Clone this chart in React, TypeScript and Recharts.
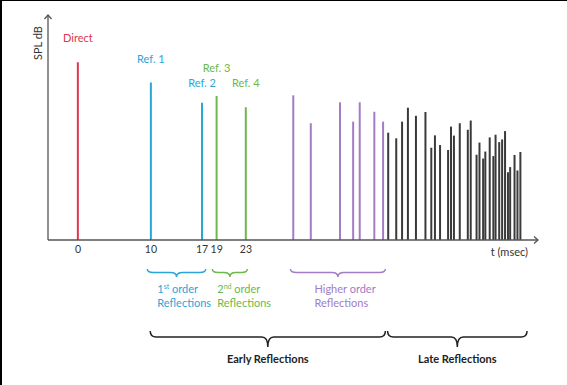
import React from 'react';
import { BarChart, Bar, XAxis, YAxis, Cell, LabelList, ReferenceArea, ReferenceDot } from 'recharts';

// time of arrival (msec) and level (relative SPL) of each reflection
const earlyTimes = [0, 10, 17, 19, 23];
const earlyLevels = [79, 70, 61, 64, 59];
const earlyNames = ['Direct', 'Ref. 1', 'Ref. 2', 'Ref. 3', 'Ref. 4'];
const earlyGroups = ['direct', 'first', 'first', 'second', 'second'];

const higherTimes = [29.5, 31.9, 35.9, 37.7, 38.6, 40.6, 41.8];
const higherLevels = [64.3, 51.9, 61.2, 52.6, 61.2, 57.0, 52.6];

const lateTimes = [
  42.5, 43.6, 44.4, 45.2, 46.3, 47.6, 48.4, 48.9, 49.6, 50.7,
  51.1, 51.5, 52.3, 53.4, 53.8, 54.6, 55.0, 55.5, 55.8, 56.4,
  56.9, 57.2, 57.7, 58.1, 58.5, 58.9, 59.2, 59.8, 60.2, 60.6,
];
const lateLevels = [
  47.7, 45.2, 52.6, 58.8, 55.2, 56.9, 41.0, 46.5, 42.2, 40.0,
  50.4, 46.4, 51.9, 49.0, 53.1, 37.9, 43.3, 36.2, 39.3, 45.6,
  37.3, 46.8, 43.5, 44.7, 48.4, 30.1, 32.4, 37.8, 30.9, 39.1,
];

const tickValues = [0, 10, 17, 19, 23];

// brace groups under the axis
const smallBraceFrom = [9.5, 18.4, 29.1];
const smallBraceTo = [17.5, 23.2, 42.1];
const smallBraceGroups = ['first', 'second', 'higher'];
const smallBraceLines = [
  ['1', 'st', ' order'],
  ['2', 'nd', ' order'],
  ['Higher order', '', ''],
];
const bigBraceFrom = [9.9, 42.4];
const bigBraceTo = [42.1, 61.5];
const bigBraceLabels = ['Early Reflections', 'Late Reflections'];

const COLORS: Record<string, string> = {
  direct: '#e2344f',
  first: '#2ba5d6',
  second: '#6bb94b',
  higher: '#a27cc6',
  late: '#3a3a3a',
};
const FONT = 'Lato, sans-serif';
const AXIS = '#555';

const data = [
  ...earlyTimes.map((t, i) => ({ t, level: earlyLevels[i], name: earlyNames[i], group: earlyGroups[i] })),
  ...higherTimes.map((t, i) => ({ t, level: higherLevels[i], name: undefined, group: 'higher' })),
  ...lateTimes.map((t, i) => ({ t, level: lateLevels[i], name: undefined, group: 'late' })),
];

const labelGap: Record<string, number> = { 'Ref. 2': 20, 'Ref. 3': 28 };
const textInset = [10, 5, 24];

const bracePath = (x0: number, x1: number, y: number, endDrop: number, tip: number) => {
  const mid = (x0 + x1) / 2;
  const r = Math.min(6, (x1 - x0) / 6);
  const ym = y + endDrop;
  return `M${x0},${y} Q${x0},${ym} ${x0 + r},${ym} L${mid - r},${ym} Q${mid},${ym} ${mid},${y + tip} ` +
    `Q${mid},${ym} ${mid + r},${ym} L${x1 - r},${ym} Q${x1},${ym} ${x1},${y}`;
};

const renderRefLabel = (p: any) => {
  if (!p.value) return null;
  const row = data.find((d) => d.name === p.value)!;
  const gap = labelGap[p.value] ?? 24;
  return (
    <text x={p.x + p.width / 2} y={p.y - gap + 4} textAnchor="middle" fontSize={11}
      fontFamily={FONT} fill={COLORS[row.group]}>
      {p.value}
    </text>
  );
};

const SmallBrace = (p: any, i: number) => {
  const base = p.y + p.height;
  const color = COLORS[smallBraceGroups[i]];
  const [a, sup, b] = smallBraceLines[i];
  const tx = p.x + textInset[i];
  return (
    <g>
      <path d={bracePath(p.x, p.x + p.width, base + 29, 3.5, 8)} fill="none" stroke={color} strokeWidth={1.4} />
      <text x={tx} y={base + 53} fontSize={11} fontFamily={FONT} fill={color}>
        {a}
        {sup && <tspan fontSize={7} dy={-4}>{sup}</tspan>}
        {b && <tspan dy={4}>{b}</tspan>}
      </text>
      <text x={tx} y={base + 67} fontSize={11} fontFamily={FONT} fill={color}>Reflections</text>
    </g>
  );
};

const BigBrace = (p: any, i: number) => {
  const base = p.y + p.height;
  return (
    <g>
      <path d={bracePath(p.x, p.x + p.width, base + 91, 6, 16)} fill="none" stroke="#222" strokeWidth={1.5} />
      <text x={p.x + p.width / 2} y={base + 123} textAnchor="middle" fontSize={11} fontWeight="bold"
        fontFamily={FONT} fill="#222">
        {bigBraceLabels[i]}
      </text>
    </g>
  );
};

export default function App() {
  return (
    <div style={{ position: 'absolute', left: 0, top: 0, width: 567, height: 385, background: '#fff' }}>
      <BarChart width={567} height={385} data={data} margin={{ top: 15, right: 29, bottom: 115, left: 47 }}>
        <XAxis type="number" dataKey="t" domain={[-4.1, 63]} ticks={tickValues} interval={0} allowDataOverflow
          tickLine={false} tickSize={4} height={30} axisLine={{ stroke: AXIS, strokeWidth: 1.3 }}
          tick={{ fill: '#333', fontSize: 10.5, fontFamily: FONT }} />
        <YAxis type="number" domain={[0, 100]} tick={false} tickLine={false} width={1}
          axisLine={{ stroke: AXIS, strokeWidth: 1.3 }} />
        <Bar dataKey="level" barSize={2} isAnimationActive={false}>
          {data.map((d, i) => <Cell key={i} fill={COLORS[d.group]} />)}
          <LabelList dataKey="name" content={renderRefLabel} />
        </Bar>
        {smallBraceFrom.map((f, i) => (
          <ReferenceArea key={'s' + i} x1={f} x2={smallBraceTo[i]} y1={0} y2={1} ifOverflow="visible"
            shape={(p: any) => SmallBrace(p, i)} />
        ))}
        {bigBraceFrom.map((f, i) => (
          <ReferenceArea key={'b' + i} x1={f} x2={bigBraceTo[i]} y1={0} y2={1} ifOverflow="visible"
            shape={(p: any) => BigBrace(p, i)} />
        ))}
        <ReferenceDot x={-4.1} y={100} r={0} ifOverflow="visible"
          shape={(p: any) => (
            <g>
              <path d={`M${p.cx - 3.5},${p.cy + 4} L${p.cx},${p.cy} L${p.cx + 3.5},${p.cy + 4}`} fill="none"
                stroke={AXIS} strokeWidth={1.3} />
              <text transform={`translate(${p.cx - 6},${p.cy + 28}) rotate(-90)`} textAnchor="middle"
                fontSize={11} fontFamily={FONT} fill="#333">SPL dB</text>
            </g>
          )} />
        <ReferenceDot x={63} y={0} r={0} ifOverflow="visible"
          shape={(p: any) => (
            <g>
              <path d={`M${p.cx - 4},${p.cy - 3.5} L${p.cx},${p.cy} L${p.cx - 4},${p.cy + 3.5}`} fill="none"
                stroke={AXIS} strokeWidth={1.3} />
              <text x={p.cx - 10} y={p.cy + 16} textAnchor="end" fontSize={11} fontFamily={FONT}
                fill="#333">t (msec)</text>
            </g>
          )} />
      </BarChart>
      <div style={{ position: 'absolute', left: 0, top: 0, width: 567, height: 385, boxSizing: 'border-box',
        borderTop: '1px solid #000', borderLeft: '2px solid #000', pointerEvents: 'none' }} />
    </div>
  );
}
